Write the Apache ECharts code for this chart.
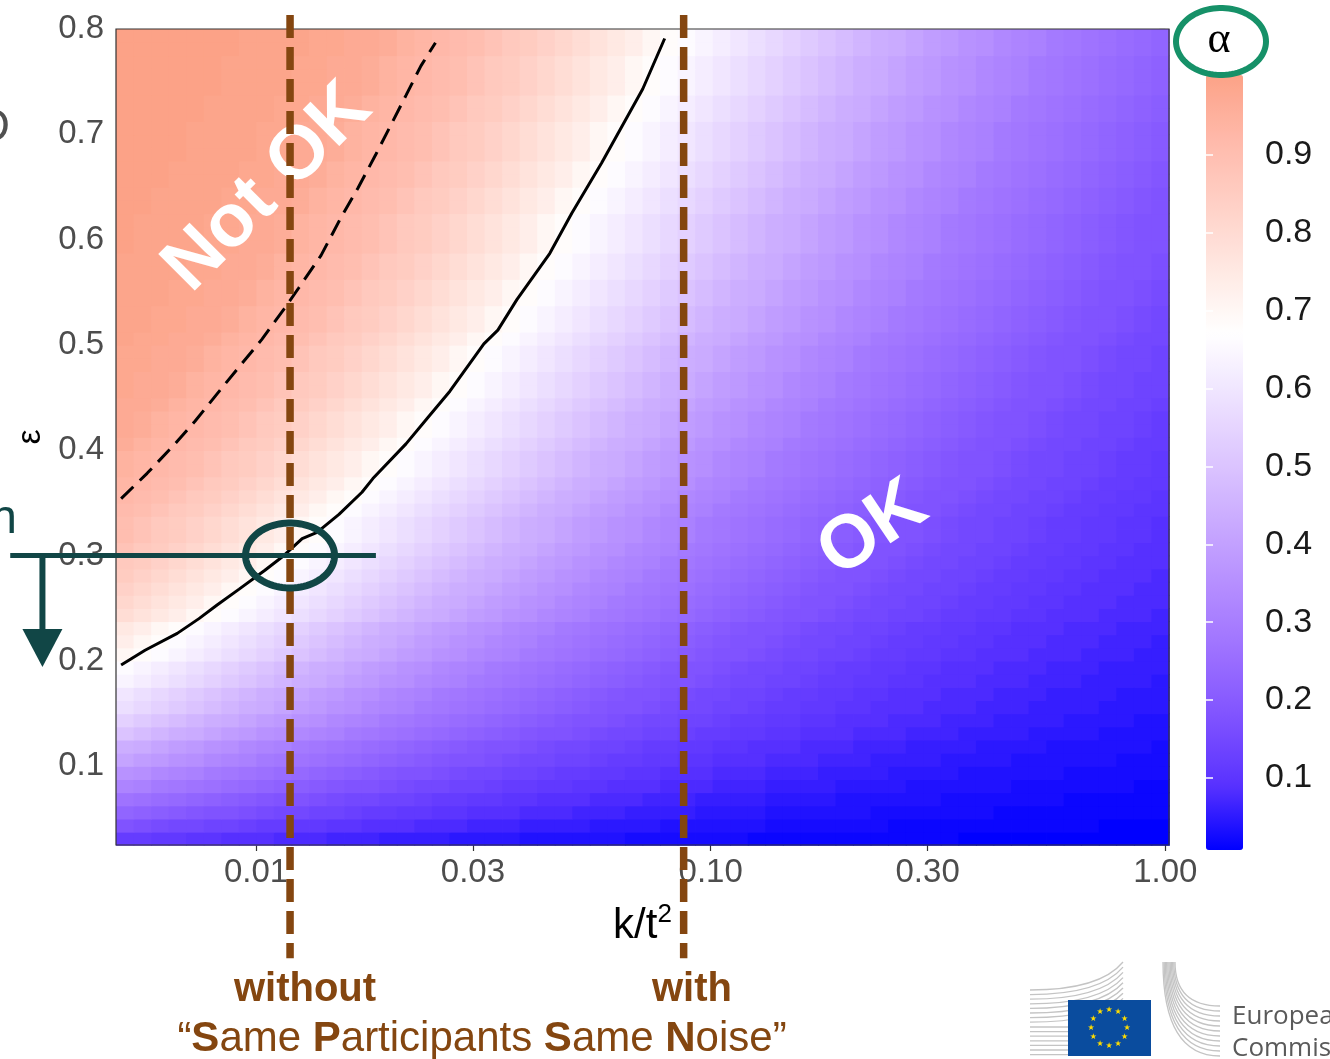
<!DOCTYPE html>
<html><head><meta charset="utf-8">
<script src="https://cdn.jsdelivr.net/npm/echarts@6/dist/echarts.min.js"></script>
<style>html,body{margin:0;padding:0;background:#fff}#c{width:1330px;height:1059px}</style>
</head><body><div id="c"></div>
<script>
// ---------------- data ----------------
// heat-map cell centres: log10(k/t^2) columns and epsilon rows (bottom -> top)
const xCentersLog = [-2.2887,-2.2501,-2.2115,-2.1729,-2.1343,-2.0957,-2.0571,-2.0185,-1.9799,-1.9413,
  -1.9027,-1.8641,-1.8255,-1.7869,-1.7483,-1.7097,-1.6711,-1.6325,-1.5939,-1.5553,
  -1.5167,-1.4781,-1.4395,-1.4009,-1.3623,-1.3237,-1.2851,-1.2465,-1.2079,-1.1693,
  -1.1307,-1.0921,-1.0535,-1.0149,-0.9763,-0.9377,-0.8991,-0.8605,-0.8219,-0.7833,
  -0.7447,-0.7061,-0.6675,-0.6289,-0.5903,-0.5517,-0.5131,-0.4745,-0.4359,-0.3973,
  -0.3587,-0.3201,-0.2815,-0.2429,-0.2043,-0.1657,-0.1271,-0.0885,-0.0499,-0.0113];
const epsCenters = [0.03125,0.04375,0.05625,0.06875,0.08125,0.09375,0.10625,0.11875,0.13125,0.14375,
  0.15625,0.16875,0.18125,0.19375,0.20625,0.21875,0.23125,0.24375,0.25625,0.26875,
  0.28125,0.29375,0.30625,0.31875,0.33125,0.34375,0.35625,0.36875,0.38125,0.39375,
  0.40625,0.41875,0.43125,0.44375,0.45625,0.46875,0.48125,0.49375,0.50625,0.51875,
  0.53125,0.54375,0.55625,0.56875,0.58125,0.59375,0.60625,0.61875,0.63125,0.64375,
  0.65625,0.66875,0.68125,0.69375,0.70625,0.71875,0.73125,0.74375,0.75625,0.76875,
  0.78125,0.79375];
// alpha per cell, one row per epsilon (bottom row first), 60 columns each
const alphaRows = [
 [.12,.12,.11,.11,.10,.10,.09,.09,.09,.08,.08,.08,.07,.07,.07,.06,.06,.06,.06,.05,.05,.05,.05,.04,.04,.04,.04,.04,.04,.03,.03,.03,.03,.03,.03,.03,.02,.02,.02,.02,.02,.02,.02,.02,.02,.02,.02,.02,.01,.01,.01,.01,.01,.01,.01,.01,.01,.01,.01,.01],
 [.18,.17,.16,.15,.15,.14,.14,.13,.12,.12,.11,.11,.10,.10,.09,.09,.09,.08,.08,.08,.07,.07,.07,.06,.06,.06,.06,.05,.05,.05,.05,.04,.04,.04,.04,.04,.04,.03,.03,.03,.03,.03,.03,.03,.02,.02,.02,.02,.02,.02,.02,.02,.02,.02,.02,.02,.01,.01,.01,.01],
 [.23,.22,.21,.20,.19,.18,.18,.17,.16,.15,.15,.14,.14,.13,.12,.12,.11,.11,.10,.10,.09,.09,.09,.08,.08,.08,.07,.07,.07,.06,.06,.06,.06,.05,.05,.05,.05,.04,.04,.04,.04,.04,.04,.03,.03,.03,.03,.03,.03,.03,.02,.02,.02,.02,.02,.02,.02,.02,.02,.02],
 [.27,.26,.25,.24,.23,.22,.21,.20,.19,.18,.18,.17,.16,.15,.15,.14,.14,.13,.12,.12,.11,.11,.10,.10,.09,.09,.09,.08,.08,.08,.07,.07,.07,.06,.06,.06,.06,.05,.05,.05,.05,.04,.04,.04,.04,.04,.04,.03,.03,.03,.03,.03,.03,.03,.02,.02,.02,.02,.02,.02],
 [.32,.31,.29,.28,.27,.26,.25,.24,.23,.22,.21,.20,.19,.18,.18,.17,.16,.15,.15,.14,.14,.13,.12,.12,.11,.11,.10,.10,.09,.09,.09,.08,.08,.08,.07,.07,.07,.06,.06,.06,.06,.05,.05,.05,.05,.04,.04,.04,.04,.04,.04,.03,.03,.03,.03,.03,.03,.03,.02,.02],
 [.36,.35,.33,.32,.31,.29,.28,.27,.26,.25,.24,.23,.22,.21,.20,.19,.18,.18,.17,.16,.15,.15,.14,.14,.13,.12,.12,.11,.11,.10,.10,.09,.09,.09,.08,.08,.08,.07,.07,.07,.06,.06,.06,.06,.05,.05,.05,.05,.04,.04,.04,.04,.04,.04,.03,.03,.03,.03,.03,.03],
 [.41,.39,.38,.36,.35,.33,.32,.31,.29,.28,.27,.26,.25,.24,.23,.22,.21,.20,.19,.18,.18,.17,.16,.15,.15,.14,.14,.13,.12,.12,.11,.11,.10,.10,.09,.09,.09,.08,.08,.08,.07,.07,.07,.06,.06,.06,.06,.05,.05,.05,.05,.04,.04,.04,.04,.04,.04,.03,.03,.03],
 [.44,.43,.41,.39,.38,.36,.35,.33,.32,.31,.29,.28,.27,.26,.25,.24,.23,.22,.21,.20,.19,.18,.18,.17,.16,.15,.15,.14,.14,.13,.12,.12,.11,.11,.10,.10,.09,.09,.09,.08,.08,.08,.07,.07,.07,.06,.06,.06,.06,.05,.05,.05,.05,.04,.04,.04,.04,.04,.04,.03],
 [.50,.48,.46,.44,.43,.41,.39,.38,.36,.35,.33,.32,.31,.29,.28,.27,.26,.25,.24,.23,.22,.21,.20,.19,.18,.18,.17,.16,.15,.15,.14,.14,.13,.12,.12,.11,.11,.10,.10,.09,.09,.09,.08,.08,.08,.07,.07,.07,.06,.06,.06,.06,.05,.05,.05,.05,.04,.04,.04,.04],
 [.54,.52,.50,.48,.46,.44,.43,.41,.39,.38,.36,.35,.33,.32,.31,.29,.28,.27,.26,.25,.24,.23,.22,.21,.20,.19,.18,.18,.17,.16,.15,.15,.14,.14,.13,.12,.12,.11,.11,.10,.10,.09,.09,.09,.08,.08,.08,.07,.07,.07,.06,.06,.06,.06,.05,.05,.05,.05,.04,.04],
 [.58,.56,.54,.52,.50,.48,.46,.44,.43,.41,.39,.38,.36,.35,.33,.32,.31,.29,.28,.27,.26,.25,.24,.23,.22,.21,.20,.19,.18,.18,.17,.16,.15,.15,.14,.14,.13,.12,.12,.11,.11,.10,.10,.09,.09,.09,.08,.08,.08,.07,.07,.07,.06,.06,.06,.06,.05,.05,.05,.05],
 [.60,.58,.56,.54,.52,.50,.48,.46,.44,.43,.41,.39,.38,.36,.35,.33,.32,.31,.29,.28,.27,.26,.25,.24,.23,.22,.21,.20,.19,.18,.18,.17,.16,.15,.15,.14,.14,.13,.12,.12,.11,.11,.10,.10,.09,.09,.09,.08,.08,.08,.07,.07,.07,.06,.06,.06,.06,.05,.05,.05],
 [.64,.62,.60,.58,.56,.54,.52,.50,.48,.46,.44,.43,.41,.39,.38,.36,.35,.33,.32,.31,.29,.28,.27,.26,.25,.24,.23,.22,.21,.20,.19,.18,.18,.17,.16,.15,.15,.14,.14,.13,.12,.12,.11,.11,.10,.10,.09,.09,.09,.08,.08,.08,.07,.07,.07,.06,.06,.06,.06,.05],
 [.66,.64,.62,.60,.58,.56,.54,.52,.50,.48,.46,.44,.43,.41,.39,.38,.36,.35,.33,.32,.31,.29,.28,.27,.26,.25,.24,.23,.22,.21,.20,.19,.18,.18,.17,.16,.15,.15,.14,.14,.13,.12,.12,.11,.11,.10,.10,.09,.09,.09,.08,.08,.08,.07,.07,.07,.06,.06,.06,.06],
 [.70,.68,.66,.64,.62,.60,.58,.56,.54,.52,.50,.48,.46,.44,.43,.41,.39,.38,.36,.35,.33,.32,.31,.29,.28,.27,.26,.25,.24,.23,.22,.21,.20,.19,.18,.18,.17,.16,.15,.15,.14,.14,.13,.12,.12,.11,.11,.10,.10,.09,.09,.09,.08,.08,.08,.07,.07,.07,.06,.06],
 [.73,.70,.68,.66,.64,.62,.60,.58,.56,.54,.52,.50,.48,.46,.44,.43,.41,.39,.38,.36,.35,.33,.32,.31,.29,.28,.27,.26,.25,.24,.23,.22,.21,.20,.19,.18,.18,.17,.16,.15,.15,.14,.14,.13,.12,.12,.11,.11,.10,.10,.09,.09,.09,.08,.08,.08,.07,.07,.07,.06],
 [.75,.73,.70,.68,.66,.64,.62,.60,.58,.56,.54,.52,.50,.48,.46,.44,.43,.41,.39,.38,.36,.35,.33,.32,.31,.29,.28,.27,.26,.25,.24,.23,.22,.21,.20,.19,.18,.18,.17,.16,.15,.15,.14,.14,.13,.12,.12,.11,.11,.10,.10,.09,.09,.09,.08,.08,.08,.07,.07,.07],
 [.79,.77,.75,.73,.70,.68,.66,.64,.62,.60,.58,.56,.54,.52,.50,.48,.46,.44,.43,.41,.39,.38,.36,.35,.33,.32,.31,.29,.28,.27,.26,.25,.24,.23,.22,.21,.20,.19,.18,.18,.17,.16,.15,.15,.14,.14,.13,.12,.12,.11,.11,.10,.10,.09,.09,.09,.08,.08,.08,.07],
 [.81,.79,.77,.75,.73,.70,.68,.66,.64,.62,.60,.58,.56,.54,.52,.50,.48,.46,.44,.43,.41,.39,.38,.36,.35,.33,.32,.31,.29,.28,.27,.26,.25,.24,.23,.22,.21,.20,.19,.18,.18,.17,.16,.15,.15,.14,.14,.13,.12,.12,.11,.11,.10,.10,.09,.09,.09,.08,.08,.08],
 [.83,.81,.79,.77,.75,.73,.70,.68,.66,.64,.62,.60,.58,.56,.54,.52,.50,.48,.46,.44,.43,.41,.39,.38,.36,.35,.33,.32,.31,.29,.28,.27,.26,.25,.24,.23,.22,.21,.20,.19,.18,.18,.17,.16,.15,.15,.14,.14,.13,.12,.12,.11,.11,.10,.10,.09,.09,.09,.08,.08],
 [.85,.83,.81,.79,.77,.75,.73,.70,.68,.66,.64,.62,.60,.58,.56,.54,.52,.50,.48,.46,.44,.43,.41,.39,.38,.36,.35,.33,.32,.31,.29,.28,.27,.26,.25,.24,.23,.22,.21,.20,.19,.18,.18,.17,.16,.15,.15,.14,.14,.13,.12,.12,.11,.11,.10,.10,.09,.09,.09,.08],
 [.86,.85,.83,.81,.79,.77,.75,.73,.70,.68,.66,.64,.62,.60,.58,.56,.54,.52,.50,.48,.46,.44,.43,.41,.39,.38,.36,.35,.33,.32,.31,.29,.28,.27,.26,.25,.24,.23,.22,.21,.20,.19,.18,.18,.17,.16,.15,.15,.14,.14,.13,.12,.12,.11,.11,.10,.10,.09,.09,.09],
 [.88,.86,.85,.83,.81,.79,.77,.75,.73,.70,.68,.66,.64,.62,.60,.58,.56,.54,.52,.50,.48,.46,.44,.43,.41,.39,.38,.36,.35,.33,.32,.31,.29,.28,.27,.26,.25,.24,.23,.22,.21,.20,.19,.18,.18,.17,.16,.15,.15,.14,.14,.13,.12,.12,.11,.11,.10,.10,.09,.09],
 [.90,.88,.86,.85,.83,.81,.79,.77,.75,.73,.70,.68,.66,.64,.62,.60,.58,.56,.54,.52,.50,.48,.46,.44,.43,.41,.39,.38,.36,.35,.33,.32,.31,.29,.28,.27,.26,.25,.24,.23,.22,.21,.20,.19,.18,.18,.17,.16,.15,.15,.14,.14,.13,.12,.12,.11,.11,.10,.10,.09],
 [.90,.88,.86,.85,.83,.81,.79,.77,.75,.73,.70,.68,.66,.64,.62,.60,.58,.56,.54,.52,.50,.48,.46,.44,.43,.41,.39,.38,.36,.35,.33,.32,.31,.29,.28,.27,.26,.25,.24,.23,.22,.21,.20,.19,.18,.18,.17,.16,.15,.15,.14,.14,.13,.12,.12,.11,.11,.10,.10,.09],
 [.91,.90,.88,.86,.85,.83,.81,.79,.77,.75,.73,.70,.68,.66,.64,.62,.60,.58,.56,.54,.52,.50,.48,.46,.44,.43,.41,.39,.38,.36,.35,.33,.32,.31,.29,.28,.27,.26,.25,.24,.23,.22,.21,.20,.19,.18,.18,.17,.16,.15,.15,.14,.14,.13,.12,.12,.11,.11,.10,.10],
 [.92,.91,.90,.88,.86,.85,.83,.81,.79,.77,.75,.73,.70,.68,.66,.64,.62,.60,.58,.56,.54,.52,.50,.48,.46,.44,.43,.41,.39,.38,.36,.35,.33,.32,.31,.29,.28,.27,.26,.25,.24,.23,.22,.21,.20,.19,.18,.18,.17,.16,.15,.15,.14,.14,.13,.12,.12,.11,.11,.10],
 [.93,.92,.91,.90,.88,.86,.85,.83,.81,.79,.77,.75,.73,.70,.68,.66,.64,.62,.60,.58,.56,.54,.52,.50,.48,.46,.44,.43,.41,.39,.38,.36,.35,.33,.32,.31,.29,.28,.27,.26,.25,.24,.23,.22,.21,.20,.19,.18,.18,.17,.16,.15,.15,.14,.14,.13,.12,.12,.11,.11],
 [.94,.93,.92,.91,.90,.88,.86,.85,.83,.81,.79,.77,.75,.73,.70,.68,.66,.64,.62,.60,.58,.56,.54,.52,.50,.48,.46,.44,.43,.41,.39,.38,.36,.35,.33,.32,.31,.29,.28,.27,.26,.25,.24,.23,.22,.21,.20,.19,.18,.18,.17,.16,.15,.15,.14,.14,.13,.12,.12,.11],
 [.94,.93,.92,.91,.90,.88,.86,.85,.83,.81,.79,.77,.75,.73,.70,.68,.66,.64,.62,.60,.58,.56,.54,.52,.50,.48,.46,.44,.43,.41,.39,.38,.36,.35,.33,.32,.31,.29,.28,.27,.26,.25,.24,.23,.22,.21,.20,.19,.18,.18,.17,.16,.15,.15,.14,.14,.13,.12,.12,.11],
 [.96,.94,.93,.92,.91,.90,.88,.86,.85,.83,.81,.79,.77,.75,.73,.70,.68,.66,.64,.62,.60,.58,.56,.54,.52,.50,.48,.46,.44,.43,.41,.39,.38,.36,.35,.33,.32,.31,.29,.28,.27,.26,.25,.24,.23,.22,.21,.20,.19,.18,.18,.17,.16,.15,.15,.14,.14,.13,.12,.12],
 [.97,.96,.94,.93,.92,.91,.90,.88,.86,.85,.83,.81,.79,.77,.75,.73,.70,.68,.66,.64,.62,.60,.58,.56,.54,.52,.50,.48,.46,.44,.43,.41,.39,.38,.36,.35,.33,.32,.31,.29,.28,.27,.26,.25,.24,.23,.22,.21,.20,.19,.18,.18,.17,.16,.15,.15,.14,.14,.13,.12],
 [.97,.96,.94,.93,.92,.91,.90,.88,.86,.85,.83,.81,.79,.77,.75,.73,.70,.68,.66,.64,.62,.60,.58,.56,.54,.52,.50,.48,.46,.44,.43,.41,.39,.38,.36,.35,.33,.32,.31,.29,.28,.27,.26,.25,.24,.23,.22,.21,.20,.19,.18,.18,.17,.16,.15,.15,.14,.14,.13,.12],
 [.97,.97,.96,.94,.93,.92,.91,.90,.88,.86,.85,.83,.81,.79,.77,.75,.73,.70,.68,.66,.64,.62,.60,.58,.56,.54,.52,.50,.48,.46,.44,.43,.41,.39,.38,.36,.35,.33,.32,.31,.29,.28,.27,.26,.25,.24,.23,.22,.21,.20,.19,.18,.18,.17,.16,.15,.15,.14,.14,.13],
 [.98,.97,.97,.96,.94,.93,.92,.91,.90,.88,.86,.85,.83,.81,.79,.77,.75,.73,.70,.68,.66,.64,.62,.60,.58,.56,.54,.52,.50,.48,.46,.44,.43,.41,.39,.38,.36,.35,.33,.32,.31,.29,.28,.27,.26,.25,.24,.23,.22,.21,.20,.19,.18,.18,.17,.16,.15,.15,.14,.14],
 [.98,.97,.97,.96,.94,.93,.92,.91,.90,.88,.86,.85,.83,.81,.79,.77,.75,.73,.70,.68,.66,.64,.62,.60,.58,.56,.54,.52,.50,.48,.46,.44,.43,.41,.39,.38,.36,.35,.33,.32,.31,.29,.28,.27,.26,.25,.24,.23,.22,.21,.20,.19,.18,.18,.17,.16,.15,.15,.14,.14],
 [.98,.98,.97,.97,.96,.94,.93,.92,.91,.90,.88,.86,.85,.83,.81,.79,.77,.75,.73,.70,.68,.66,.64,.62,.60,.58,.56,.54,.52,.50,.48,.46,.44,.43,.41,.39,.38,.36,.35,.33,.32,.31,.29,.28,.27,.26,.25,.24,.23,.22,.21,.20,.19,.18,.18,.17,.16,.15,.15,.14],
 [.98,.98,.97,.97,.96,.94,.93,.92,.91,.90,.88,.86,.85,.83,.81,.79,.77,.75,.73,.70,.68,.66,.64,.62,.60,.58,.56,.54,.52,.50,.48,.46,.44,.43,.41,.39,.38,.36,.35,.33,.32,.31,.29,.28,.27,.26,.25,.24,.23,.22,.21,.20,.19,.18,.18,.17,.16,.15,.15,.14],
 [.99,.98,.98,.97,.97,.96,.94,.93,.92,.91,.90,.88,.86,.85,.83,.81,.79,.77,.75,.73,.70,.68,.66,.64,.62,.60,.58,.56,.54,.52,.50,.48,.46,.44,.43,.41,.39,.38,.36,.35,.33,.32,.31,.29,.28,.27,.26,.25,.24,.23,.22,.21,.20,.19,.18,.18,.17,.16,.15,.15],
 [.99,.99,.98,.98,.97,.97,.96,.94,.93,.92,.91,.90,.88,.86,.85,.83,.81,.79,.77,.75,.73,.70,.68,.66,.64,.62,.60,.58,.56,.54,.52,.50,.48,.46,.44,.43,.41,.39,.38,.36,.35,.33,.32,.31,.29,.28,.27,.26,.25,.24,.23,.22,.21,.20,.19,.18,.18,.17,.16,.15],
 [.99,.99,.98,.98,.97,.97,.96,.94,.93,.92,.91,.90,.88,.86,.85,.83,.81,.79,.77,.75,.73,.70,.68,.66,.64,.62,.60,.58,.56,.54,.52,.50,.48,.46,.44,.43,.41,.39,.38,.36,.35,.33,.32,.31,.29,.28,.27,.26,.25,.24,.23,.22,.21,.20,.19,.18,.18,.17,.16,.15],
 [.99,.99,.99,.98,.98,.97,.97,.96,.94,.93,.92,.91,.90,.88,.86,.85,.83,.81,.79,.77,.75,.73,.70,.68,.66,.64,.62,.60,.58,.56,.54,.52,.50,.48,.46,.44,.43,.41,.39,.38,.36,.35,.33,.32,.31,.29,.28,.27,.26,.25,.24,.23,.22,.21,.20,.19,.18,.18,.17,.16],
 [.99,.99,.99,.98,.98,.97,.97,.96,.94,.93,.92,.91,.90,.88,.86,.85,.83,.81,.79,.77,.75,.73,.70,.68,.66,.64,.62,.60,.58,.56,.54,.52,.50,.48,.46,.44,.43,.41,.39,.38,.36,.35,.33,.32,.31,.29,.28,.27,.26,.25,.24,.23,.22,.21,.20,.19,.18,.18,.17,.16],
 [.99,.99,.99,.99,.98,.98,.97,.97,.96,.94,.93,.92,.91,.90,.88,.86,.85,.83,.81,.79,.77,.75,.73,.70,.68,.66,.64,.62,.60,.58,.56,.54,.52,.50,.48,.46,.44,.43,.41,.39,.38,.36,.35,.33,.32,.31,.29,.28,.27,.26,.25,.24,.23,.22,.21,.20,.19,.18,.18,.17],
 [.99,.99,.99,.99,.98,.98,.97,.97,.96,.94,.93,.92,.91,.90,.88,.86,.85,.83,.81,.79,.77,.75,.73,.70,.68,.66,.64,.62,.60,.58,.56,.54,.52,.50,.48,.46,.44,.43,.41,.39,.38,.36,.35,.33,.32,.31,.29,.28,.27,.26,.25,.24,.23,.22,.21,.20,.19,.18,.18,.17],
 [1,.99,.99,.99,.99,.98,.98,.97,.97,.96,.94,.93,.92,.91,.90,.88,.86,.85,.83,.81,.79,.77,.75,.73,.70,.68,.66,.64,.62,.60,.58,.56,.54,.52,.50,.48,.46,.44,.43,.41,.39,.38,.36,.35,.33,.32,.31,.29,.28,.27,.26,.25,.24,.23,.22,.21,.20,.19,.18,.18],
 [1,.99,.99,.99,.99,.98,.98,.97,.97,.96,.94,.93,.92,.91,.90,.88,.86,.85,.83,.81,.79,.77,.75,.73,.70,.68,.66,.64,.62,.60,.58,.56,.54,.52,.50,.48,.46,.44,.43,.41,.39,.38,.36,.35,.33,.32,.31,.29,.28,.27,.26,.25,.24,.23,.22,.21,.20,.19,.18,.18],
 [1,.99,.99,.99,.99,.98,.98,.97,.97,.96,.94,.93,.92,.91,.90,.88,.86,.85,.83,.81,.79,.77,.75,.73,.70,.68,.66,.64,.62,.60,.58,.56,.54,.52,.50,.48,.46,.44,.43,.41,.39,.38,.36,.35,.33,.32,.31,.29,.28,.27,.26,.25,.24,.23,.22,.21,.20,.19,.18,.18],
 [1,1,.99,.99,.99,.99,.98,.98,.97,.97,.96,.94,.93,.92,.91,.90,.88,.86,.85,.83,.81,.79,.77,.75,.73,.70,.68,.66,.64,.62,.60,.58,.56,.54,.52,.50,.48,.46,.44,.43,.41,.39,.38,.36,.35,.33,.32,.31,.29,.28,.27,.26,.25,.24,.23,.22,.21,.20,.19,.18],
 [1,1,.99,.99,.99,.99,.98,.98,.97,.97,.96,.94,.93,.92,.91,.90,.88,.86,.85,.83,.81,.79,.77,.75,.73,.70,.68,.66,.64,.62,.60,.58,.56,.54,.52,.50,.48,.46,.44,.43,.41,.39,.38,.36,.35,.33,.32,.31,.29,.28,.27,.26,.25,.24,.23,.22,.21,.20,.19,.18],
 [1,1,1,.99,.99,.99,.99,.98,.98,.97,.97,.96,.94,.93,.92,.91,.90,.88,.86,.85,.83,.81,.79,.77,.75,.73,.70,.68,.66,.64,.62,.60,.58,.56,.54,.52,.50,.48,.46,.44,.43,.41,.39,.38,.36,.35,.33,.32,.31,.29,.28,.27,.26,.25,.24,.23,.22,.21,.20,.19],
 [1,1,1,.99,.99,.99,.99,.98,.98,.97,.97,.96,.94,.93,.92,.91,.90,.88,.86,.85,.83,.81,.79,.77,.75,.73,.70,.68,.66,.64,.62,.60,.58,.56,.54,.52,.50,.48,.46,.44,.43,.41,.39,.38,.36,.35,.33,.32,.31,.29,.28,.27,.26,.25,.24,.23,.22,.21,.20,.19],
 [1,1,1,1,.99,.99,.99,.99,.98,.98,.97,.97,.96,.94,.93,.92,.91,.90,.88,.86,.85,.83,.81,.79,.77,.75,.73,.70,.68,.66,.64,.62,.60,.58,.56,.54,.52,.50,.48,.46,.44,.43,.41,.39,.38,.36,.35,.33,.32,.31,.29,.28,.27,.26,.25,.24,.23,.22,.21,.20],
 [1,1,1,1,.99,.99,.99,.99,.98,.98,.97,.97,.96,.94,.93,.92,.91,.90,.88,.86,.85,.83,.81,.79,.77,.75,.73,.70,.68,.66,.64,.62,.60,.58,.56,.54,.52,.50,.48,.46,.44,.43,.41,.39,.38,.36,.35,.33,.32,.31,.29,.28,.27,.26,.25,.24,.23,.22,.21,.20],
 [1,1,1,1,.99,.99,.99,.99,.98,.98,.97,.97,.96,.94,.93,.92,.91,.90,.88,.86,.85,.83,.81,.79,.77,.75,.73,.70,.68,.66,.64,.62,.60,.58,.56,.54,.52,.50,.48,.46,.44,.43,.41,.39,.38,.36,.35,.33,.32,.31,.29,.28,.27,.26,.25,.24,.23,.22,.21,.20],
 [1,1,1,1,1,.99,.99,.99,.99,.98,.98,.97,.97,.96,.94,.93,.92,.91,.90,.88,.86,.85,.83,.81,.79,.77,.75,.73,.70,.68,.66,.64,.62,.60,.58,.56,.54,.52,.50,.48,.46,.44,.43,.41,.39,.38,.36,.35,.33,.32,.31,.29,.28,.27,.26,.25,.24,.23,.22,.21],
 [1,1,1,1,1,.99,.99,.99,.99,.98,.98,.97,.97,.96,.94,.93,.92,.91,.90,.88,.86,.85,.83,.81,.79,.77,.75,.73,.70,.68,.66,.64,.62,.60,.58,.56,.54,.52,.50,.48,.46,.44,.43,.41,.39,.38,.36,.35,.33,.32,.31,.29,.28,.27,.26,.25,.24,.23,.22,.21],
 [1,1,1,1,1,1,.99,.99,.99,.99,.98,.98,.97,.97,.96,.94,.93,.92,.91,.90,.88,.86,.85,.83,.81,.79,.77,.75,.73,.70,.68,.66,.64,.62,.60,.58,.56,.54,.52,.50,.48,.46,.44,.43,.41,.39,.38,.36,.35,.33,.32,.31,.29,.28,.27,.26,.25,.24,.23,.22],
 [1,1,1,1,1,1,.99,.99,.99,.99,.98,.98,.97,.97,.96,.94,.93,.92,.91,.90,.88,.86,.85,.83,.81,.79,.77,.75,.73,.70,.68,.66,.64,.62,.60,.58,.56,.54,.52,.50,.48,.46,.44,.43,.41,.39,.38,.36,.35,.33,.32,.31,.29,.28,.27,.26,.25,.24,.23,.22],
 [1,1,1,1,1,1,.99,.99,.99,.99,.98,.98,.97,.97,.96,.94,.93,.92,.91,.90,.88,.86,.85,.83,.81,.79,.77,.75,.73,.70,.68,.66,.64,.62,.60,.58,.56,.54,.52,.50,.48,.46,.44,.43,.41,.39,.38,.36,.35,.33,.32,.31,.29,.28,.27,.26,.25,.24,.23,.22],
 [1,1,1,1,1,1,1,.99,.99,.99,.99,.98,.98,.97,.97,.96,.94,.93,.92,.91,.90,.88,.86,.85,.83,.81,.79,.77,.75,.73,.70,.68,.66,.64,.62,.60,.58,.56,.54,.52,.50,.48,.46,.44,.43,.41,.39,.38,.36,.35,.33,.32,.31,.29,.28,.27,.26,.25,.24,.23],
 [1,1,1,1,1,1,1,.99,.99,.99,.99,.98,.98,.97,.97,.96,.94,.93,.92,.91,.90,.88,.86,.85,.83,.81,.79,.77,.75,.73,.70,.68,.66,.64,.62,.60,.58,.56,.54,.52,.50,.48,.46,.44,.43,.41,.39,.38,.36,.35,.33,.32,.31,.29,.28,.27,.26,.25,.24,.23]
];
// axis ticks
const xTickValues = [0.01, 0.03, 0.1, 0.3, 1.0];
const xTickLabels = ['0.01', '0.03', '0.10', '0.30', '1.00'];
const yTickValues = [0.1, 0.2, 0.3, 0.4, 0.5, 0.6, 0.7, 0.8];
const legendTickValues = [0.1, 0.2, 0.3, 0.4, 0.5, 0.6, 0.7, 0.8, 0.9];
// solid contour (k/t^2, epsilon)
const solidX   = [0.00505,0.00570,0.00671,0.00749,0.00821,0.00918,0.01046,0.01152,0.01263,0.01362,0.01522,0.01710,0.01807,0.02137,0.02388,0.02669,0.03170,0.03403,0.03747,0.04428,0.04948,0.05759,0.07087,0.07921];
const solidEps = [0.196,0.210,0.226,0.240,0.253,0.268,0.286,0.300,0.316,0.322,0.339,0.360,0.373,0.406,0.431,0.456,0.501,0.514,0.543,0.587,0.625,0.673,0.743,0.791];
// dashed contour
const dashedX   = [0.00505,0.00576,0.00657,0.00734,0.00821,0.00920,0.01029,0.01152,0.01241,0.01390,0.01538,0.01676,0.01835,0.01981,0.02137,0.02305,0.02481];
const dashedEps = [0.354,0.378,0.404,0.4275,0.4535,0.4796,0.505,0.534,0.554,0.585,0.621,0.649,0.681,0.709,0.737,0.765,0.787];
// "Same Participants Same Noise" markers (k/t^2): without, with
const spsnX = [0.01188, 0.0872];
const spsnEpsSpan = [0.8133, -0.0825];
// threshold annotation
const thresholdEps = 0.3;
const thresholdSpan = [0.00288, 0.01835];
const arrowX = 0.00339, arrowTipEps = 0.194;

// ---------------- chart ----------------
const BROWN = '#844610', TEAL = '#114646';
const FONT = 'Liberation Sans';
const chart = echarts.init(document.getElementById('c'), null, {width: 1330, height: 1059});

const heatData = [];
alphaRows.forEach((row, j) => row.forEach((a, i) => heatData.push([xCentersLog[i], epsCenters[j], a])));
const hw = (xCentersLog[1] - xCentersLog[0]) / 2;
const hh = (epsCenters[1] - epsCenters[0]) / 2;
const xLabelFor = v => {
  const i = xTickValues.findIndex(t => Math.abs(Math.log10(t) - v) < 1e-6);
  return i >= 0 ? xTickLabels[i] : '';
};
const colorStops = ['#0000FF','#5932FF','#7E51FF','#9B6FFF','#B38BFF','#C8A8FF','#DCC5FF','#EEE2FF',
                    '#FFFFFF','#FFE8E2','#FFD0C6','#FFB9AA','#FCA287'];

chart.setOption({
  animation: false,
  backgroundColor: '#fff',
  grid: [
    {left: 116, top: 29, width: 1053, height: 816},
    {left: 1206, top: 77, width: 37, height: 771}
  ],
  xAxis: [
    {gridIndex: 0, type: 'value', min: -2.308, max: 0.008,
     axisLine: {show: false}, splitLine: {show: false},
     axisTick: {show: true, length: 6, lineStyle: {color: '#333', width: 1.2}, customValues: xTickValues.map(t => Math.log10(t))},
     axisLabel: {customValues: xTickValues.map(t => Math.log10(t)), formatter: xLabelFor, fontSize: 33, color: '#4D4D4D', fontFamily: FONT, margin: 11},
     name: 'k/t{s|2}', nameLocation: 'middle', nameGap: 57,
     nameTextStyle: {fontSize: 42, color: '#000', fontFamily: FONT,
       rich: {s: {fontSize: 26, color: '#000', fontFamily: FONT, verticalAlign: 'top', padding: [0, 0, 22, 0]}}}},
    {gridIndex: 1, type: 'value', show: false, min: 0, max: 1}
  ],
  yAxis: [
    {gridIndex: 0, type: 'value', min: 0.025, max: 0.8,
     axisLine: {show: false}, splitLine: {show: false},
     axisTick: {show: true, length: 6, lineStyle: {color: '#333', width: 1.2}, customValues: yTickValues},
     axisLabel: {customValues: yTickValues, formatter: v => v.toFixed(1), fontSize: 33, color: '#4D4D4D', fontFamily: FONT, margin: 12},
     name: 'ε', nameLocation: 'middle', nameGap: 67, nameRotate: 90,
     nameTextStyle: {fontSize: 34, color: '#000', fontFamily: FONT}},
    {gridIndex: 1, type: 'value', min: 0.01, max: 1.0, position: 'right', z: 10,
     axisLine: {show: false}, splitLine: {show: false},
     axisTick: {show: true, inside: true, length: 7, lineStyle: {color: '#fff', width: 1.5}, customValues: legendTickValues},
     axisLabel: {customValues: legendTickValues, formatter: v => v.toFixed(1), fontSize: 34, color: '#1a1a1a', fontFamily: FONT, margin: 22}},
    {gridIndex: 1, type: 'value', min: 0.01, max: 1.0, position: 'left', z: 10,
     axisLine: {show: false}, splitLine: {show: false},
     axisTick: {show: true, inside: true, length: 7, lineStyle: {color: '#fff', width: 1.5}, customValues: legendTickValues},
     axisLabel: {show: false}}
  ],
  visualMap: {
    type: 'continuous', min: 0.01, max: 1.0, dimension: 2, seriesIndex: 0,
    calculable: false, hoverLink: false, orient: 'vertical',
    left: 1206, top: 75, itemWidth: 37, itemHeight: 775, padding: 0,
    inRange: {color: colorStops}
  },
  series: [
    {type: 'custom', name: 'alpha', xAxisIndex: 0, yAxisIndex: 0, clip: true, silent: true, z: 1,
     dimensions: ['x', 'eps', 'alpha'], encode: {x: 0, y: 1},
     data: heatData,
     renderItem: (params, api) => {
       const x = api.value(0), y = api.value(1);
       const a = api.coord([x - hw, y + hh]);
       const b = api.coord([x + hw, y - hh]);
       return {type: 'rect', shape: {x: a[0], y: a[1], width: b[0] - a[0] + 0.8, height: b[1] - a[1] + 0.8},
               style: {fill: api.visual('color')}};
     }},
    {type: 'line', name: 'solid contour', xAxisIndex: 0, yAxisIndex: 0, z: 3, silent: true, symbol: 'none',
     data: solidX.map((x, i) => [Math.log10(x), solidEps[i]]),
     lineStyle: {color: '#000', width: 3}},
    {type: 'line', name: 'dashed contour', xAxisIndex: 0, yAxisIndex: 0, z: 3, silent: true, symbol: 'none',
     data: dashedX.map((x, i) => [Math.log10(x), dashedEps[i]]),
     lineStyle: {color: '#000', width: 3, type: [17, 9]}},
    ...spsnX.map(x => ({type: 'line', xAxisIndex: 0, yAxisIndex: 0, z: 5, silent: true, symbol: 'none', clip: false,
     data: spsnEpsSpan.map(e => [Math.log10(x), e]),
     lineStyle: {color: BROWN, width: 7.5, type: [23, 9], cap: 'butt'}}))
  ]
});

// ---------------- annotations ----------------
const px = (x, e) => chart.convertToPixel({gridIndex: 0}, [Math.log10(x), e]);
const tl = chart.convertToPixel({gridIndex: 0}, [-2.308, 0.8]);
const br = chart.convertToPixel({gridIndex: 0}, [0.008, 0.025]);
const ellipsePts = (cx, cy, rx, ry) => {
  const p = [];
  for (let k = 0; k < 90; k++) { const t = k / 90 * Math.PI * 2; p.push([cx + rx * Math.cos(t), cy + ry * Math.sin(t)]); }
  return p;
};
const ec = px(spsnX[0], thresholdEps);
const hl0 = px(thresholdSpan[0], thresholdEps), hl1 = px(thresholdSpan[1], thresholdEps);
const aTop = px(arrowX, thresholdEps), aTip = px(arrowX, arrowTipEps);
const g = [];
g.push({type: 'rect', z: 4, silent: true, shape: {x: tl[0], y: tl[1], width: br[0] - tl[0], height: br[1] - tl[1]},
        style: {fill: null, stroke: '#333', lineWidth: 1.2}});
g.push({type: 'text', z: 4, x: 268, y: 188, rotation: 45 * Math.PI / 180,
        style: {text: 'Not OK', fill: '#fff', fontSize: 75, fontWeight: 'bold', fontFamily: FONT, textAlign: 'center', textVerticalAlign: 'middle', align: 'center', verticalAlign: 'middle'}});
g.push({type: 'text', z: 4, x: 873, y: 530, rotation: 34 * Math.PI / 180,
        style: {text: 'OK', fill: '#fff', fontSize: 75, fontWeight: 'bold', fontFamily: FONT, textAlign: 'center', textVerticalAlign: 'middle', align: 'center', verticalAlign: 'middle'}});
g.push({type: 'line', z: 7, silent: true, shape: {x1: hl0[0], y1: hl0[1], x2: hl1[0], y2: hl1[1]},
        style: {stroke: TEAL, lineWidth: 5}});
g.push({type: 'polygon', z: 8, silent: true, shape: {points: ellipsePts(ec[0], ec[1], 44.5, 32.5)},
        style: {fill: null, stroke: TEAL, lineWidth: 7}});
g.push({type: 'line', z: 8, silent: true, shape: {x1: aTop[0], y1: aTop[1], x2: aTip[0], y2: aTip[1] - 34},
        style: {stroke: TEAL, lineWidth: 6}});
g.push({type: 'polygon', z: 8, silent: true, shape: {points: [[aTip[0] - 20, aTip[1] - 38], [aTip[0] + 20, aTip[1] - 38], [aTip[0], aTip[1]]]},
        style: {fill: TEAL}});
// legend title
g.push({type: 'text', z: 10, x: 1219, y: 40,
        style: {text: 'α', fill: '#000', fontSize: 44, fontFamily: 'Liberation Serif', textAlign: 'center', textVerticalAlign: 'middle', align: 'center', verticalAlign: 'middle'}});
g.push({type: 'polygon', z: 10, silent: true, shape: {points: ellipsePts(1221, 41.5, 45, 33.5)},
        style: {fill: null, stroke: '#169168', lineWidth: 6}});
// cut-off slide letters at the left edge
g.push({type: 'text', z: 10, x: 10, y: 128,
        style: {text: 'D', fill: '#505050', fontSize: 46, fontFamily: FONT, textAlign: 'right', textVerticalAlign: 'middle', align: 'right', verticalAlign: 'middle'}});
g.push({type: 'text', z: 10, x: 17, y: 520,
        style: {text: 'n', fill: TEAL, fontSize: 48, fontFamily: FONT, textAlign: 'right', textVerticalAlign: 'middle', align: 'right', verticalAlign: 'middle'}});
// bottom captions
g.push({type: 'text', z: 10, x: 305, y: 990,
        style: {text: 'without', fill: BROWN, fontSize: 40, fontWeight: 'bold', fontFamily: FONT, textAlign: 'center', textVerticalAlign: 'middle', align: 'center', verticalAlign: 'middle'}});
g.push({type: 'text', z: 10, x: 692, y: 990,
        style: {text: 'with', fill: BROWN, fontSize: 40, fontWeight: 'bold', fontFamily: FONT, textAlign: 'center', textVerticalAlign: 'middle', align: 'center', verticalAlign: 'middle'}});
g.push({type: 'text', z: 10, x: 482, y: 1039,
        style: {text: '“{b|S}ame {b|P}articipants {b|S}ame {b|N}oise”', fill: BROWN, fontSize: 42, fontFamily: FONT,
                textAlign: 'center', textVerticalAlign: 'middle', align: 'center', verticalAlign: 'middle',
                rich: {b: {fontWeight: 'bold', fontSize: 42, fontFamily: FONT, fill: BROWN, color: BROWN}}}});
// European Commission logo (decoration)
for (let k = 0; k < 8; k++) {
  g.push({type: 'bezierCurve', z: 10, silent: true,
          shape: {x1: 1030, y1: 990 + k * 4.6, cpx1: 1100, cpy1: 990 + k * 4.6, x2: 1123, y2: 962 + k * 5.2},
          style: {stroke: '#c4c4c4', lineWidth: 1.3, fill: null}});
}
for (let k = 0; k < 7; k++) {
  g.push({type: 'line', z: 10, silent: true, shape: {x1: 1030, y1: 1027 + k * 4.6, x2: 1068, y2: 1027 + k * 4.6},
          style: {stroke: '#c4c4c4', lineWidth: 1.3}});
}
for (let m = 0; m < 11; m++) {
  g.push({type: 'bezierCurve', z: 10, silent: true,
          shape: {x1: 1163 + m * 1.2, y1: 962, cpx1: 1163 + m * 1.2, cpy1: 1056 - m * 5, x2: 1220, y2: 1056 - m * 5},
          style: {stroke: '#c4c4c4', lineWidth: 1.3, fill: null}});
}
g.push({type: 'rect', z: 11, silent: true, shape: {x: 1068, y: 1000, width: 83, height: 56}, style: {fill: '#0A4C9E'}});
for (let s = 0; s < 12; s++) {
  const t = s / 12 * Math.PI * 2;
  g.push({type: 'text', z: 12, silent: true, x: 1109 + 18 * Math.cos(t), y: 1028 + 18 * Math.sin(t),
          style: {text: '★', fill: '#FFDD00', fontSize: 8, fontFamily: 'DejaVu Sans', textAlign: 'center', textVerticalAlign: 'middle', align: 'center', verticalAlign: 'middle'}});
}
g.push({type: 'text', z: 10, x: 1232, y: 1017,
        style: {text: 'European', fill: '#5a5a5a', fontSize: 26, fontFamily: 'Open Sans', textAlign: 'left', textVerticalAlign: 'middle', align: 'left', verticalAlign: 'middle'}});
g.push({type: 'text', z: 10, x: 1232, y: 1049,
        style: {text: 'Commission', fill: '#5a5a5a', fontSize: 26, fontFamily: 'Open Sans', textAlign: 'left', textVerticalAlign: 'middle', align: 'left', verticalAlign: 'middle'}});
chart.setOption({graphic: g});
</script>
</body></html>
